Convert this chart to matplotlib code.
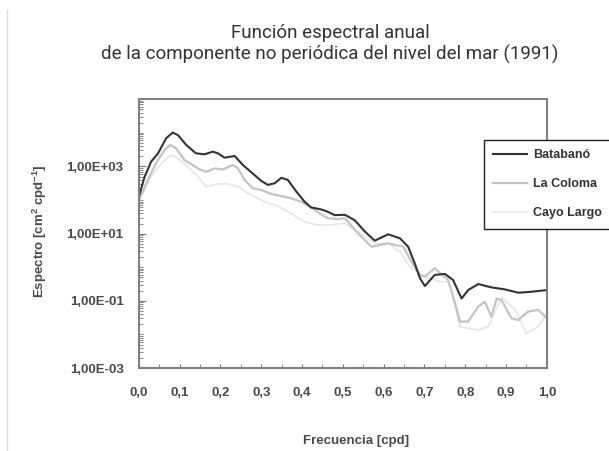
import matplotlib
matplotlib.use('Agg')
import matplotlib.pyplot as plt
from matplotlib.lines import Line2D
from matplotlib.ticker import FixedLocator, LogLocator, NullFormatter, MultipleLocator

plt.rcParams['font.family'] = ['Liberation Sans', 'DejaVu Sans']
plt.rcParams['mathtext.default'] = 'regular'

# frecuencia [cpd] y espectro [cm2 cpd-1]
frec_batabano = [0.0, 0.014, 0.030, 0.047, 0.067, 0.083, 0.096, 0.116, 0.140, 0.161,
                 0.181, 0.194, 0.210, 0.235, 0.255, 0.279, 0.300, 0.316, 0.333, 0.349,
                 0.365, 0.386, 0.406, 0.422, 0.447, 0.463, 0.480, 0.505, 0.529, 0.554,
                 0.578, 0.611, 0.640, 0.660, 0.676, 0.689, 0.701, 0.725, 0.750, 0.770,
                 0.791, 0.807, 0.832, 0.864, 0.897, 0.930, 0.962, 1.0]
esp_batabano = [126, 490, 1380, 2450, 6920, 10200, 8510, 4370, 2450, 2290,
                2750, 2450, 1820, 2040, 1100, 617, 372, 282, 316, 457,
                398, 178, 89.1, 60.3, 52.5, 44.7, 35.5, 36.3, 25.1, 11.5,
                6.17, 9.55, 7.24, 4.07, 1.32, 0.468, 0.275, 0.589, 0.631, 0.417,
                0.117, 0.209, 0.316, 0.251, 0.219, 0.174, 0.186, 0.209]

frec_coloma = [0.0, 0.022, 0.042, 0.063, 0.077, 0.091, 0.112, 0.132, 0.149, 0.165,
               0.186, 0.206, 0.230, 0.243, 0.259, 0.279, 0.300, 0.324, 0.349, 0.373,
               0.398, 0.422, 0.443, 0.463, 0.488, 0.505, 0.537, 0.570, 0.611, 0.648,
               0.668, 0.690, 0.701, 0.725, 0.758, 0.775, 0.787, 0.807, 0.832, 0.848,
               0.864, 0.877, 0.889, 0.913, 0.930, 0.954, 0.979, 1.0]
esp_coloma = [100, 398, 1230, 3090, 4370, 3470, 1550, 1100, 813, 692,
              871, 813, 1100, 871, 398, 224, 200, 151, 132, 112,
              89.1, 60.3, 39.8, 28.8, 26.9, 28.8, 10.2, 4.07, 5.13, 4.07,
              1.45, 0.562, 0.525, 0.933, 0.417, 0.0851, 0.024, 0.024, 0.0676, 0.0933,
              0.0339, 0.117, 0.105, 0.0302, 0.0269, 0.0479, 0.0537, 0.0302]

frec_cayo = [0.0, 0.030, 0.055, 0.079, 0.096, 0.120, 0.145, 0.165, 0.194, 0.218,
             0.243, 0.275, 0.308, 0.341, 0.373, 0.406, 0.439, 0.471, 0.504, 0.537,
             0.578, 0.611, 0.640, 0.664, 0.700, 0.737, 0.760, 0.787, 0.832, 0.856,
             0.889, 0.922, 0.950, 0.979, 1.0]
esp_cayo = [89.1, 490, 1230, 2190, 1740, 977, 490, 251, 302, 302,
            251, 141, 89.1, 66.1, 39.8, 22.4, 18.2, 18.2, 20.4, 11.5,
            5.01, 5.25, 2.88, 1.02, 0.562, 0.372, 0.372, 0.017, 0.0135, 0.017,
            0.126, 0.0537, 0.0107, 0.017, 0.0427]

xticks = [0.0, 0.1, 0.2, 0.3, 0.4, 0.5, 0.6, 0.7, 0.8, 0.9, 1.0]
xticklabels = ['0,0', '0,1', '0,2', '0,3', '0,4', '0,5', '0,6', '0,7', '0,8', '0,9', '1,0']
yticks = [1e-3, 1e-1, 1e1, 1e3]
yticklabels = ['1,00E-03', '1,00E-01', '1,00E+01', '1,00E+03']

fig = plt.figure(figsize=(6.09, 4.51), dpi=100)
ax = fig.add_axes([0.228, 0.184, 0.670, 0.596])

ax.plot(frec_cayo, esp_cayo, color='#e6e6e6', lw=1.2, label='Cayo Largo',
        solid_joinstyle='round')
ax.plot(frec_coloma, esp_coloma, color='#c4c4c4', lw=1.6, label='La Coloma',
        solid_joinstyle='round')
ax.plot(frec_batabano, esp_batabano, color='#333333', lw=1.5, label='Batabanó',
        solid_joinstyle='round')

ax.set_yscale('log')
ax.set_xlim(0, 1)
ax.set_ylim(1e-3, 1e5)

ax.set_xticks(xticks)
ax.set_xticklabels(xticklabels)
ax.xaxis.set_minor_locator(MultipleLocator(0.05))
ax.yaxis.set_major_locator(FixedLocator(yticks))
ax.set_yticklabels(yticklabels)
ax.yaxis.set_minor_locator(LogLocator(base=10, subs=[1, 2, 3, 4, 5, 6, 7, 8, 9], numticks=20))
ax.yaxis.set_minor_formatter(NullFormatter())

ax.tick_params(axis='both', which='both', direction='in', color='#777777')
ax.tick_params(axis='x', which='major', length=3, pad=14, labelsize=9.5, labelcolor='#4a4a4a')
ax.tick_params(axis='x', which='minor', length=3)
ax.tick_params(axis='y', which='major', length=5, pad=11, labelsize=9.5, labelcolor='#4a4a4a')
ax.tick_params(axis='y', which='minor', length=3)
for lab in ax.get_xticklabels() + ax.get_yticklabels():
    lab.set_fontweight('bold')

for sp in ax.spines.values():
    sp.set_color('#808080')
    sp.set_linewidth(1.5)

handles, labels = ax.get_legend_handles_labels()
leg = ax.legend(handles[::-1], labels[::-1], loc='upper left',
                bbox_to_anchor=(484 / 609, 1 - 140 / 451), bbox_transform=fig.transFigure,
                borderaxespad=0, frameon=True, fancybox=False, framealpha=1,
                edgecolor='#222222', fontsize=9, labelspacing=1.35,
                handlelength=2.7, handletextpad=0.5, borderpad=0.75)
leg.get_frame().set_linewidth(1.0)
for t in leg.get_texts():
    t.set_fontweight('bold')
    t.set_color('#333333')

title_font = ['Liberation Sans Narrow', 'Roboto', 'DejaVu Sans']
fig.text(0.542, 1 - 38 / 451, 'Función espectral anual', ha='center', va='baseline',
         fontsize=13.5, color='#333333', family=title_font)
fig.text(0.542, 1 - 60 / 451, 'de la componente no periódica del nivel del mar (1991)',
         ha='center', va='baseline', fontsize=13.5, color='#333333', family=title_font)

fig.text(356 / 609, 1 - 441 / 451, 'Frecuencia [cpd]', ha='center', va='center',
         fontsize=9.5, fontweight='bold', color='#4a4a4a')
fig.text(40 / 609, 1 - 231 / 451, 'Espectro [cm$^{2}$ cpd$^{-1}$]', ha='center', va='center',
         rotation=90, fontsize=9.5, fontweight='bold', color='#4a4a4a')

fig.add_artist(Line2D([7 / 609, 7 / 609], [0, 1 - 10 / 451], transform=fig.transFigure,
                      color='#dddddd', lw=1))

fig.savefig('out.png', dpi=100)
